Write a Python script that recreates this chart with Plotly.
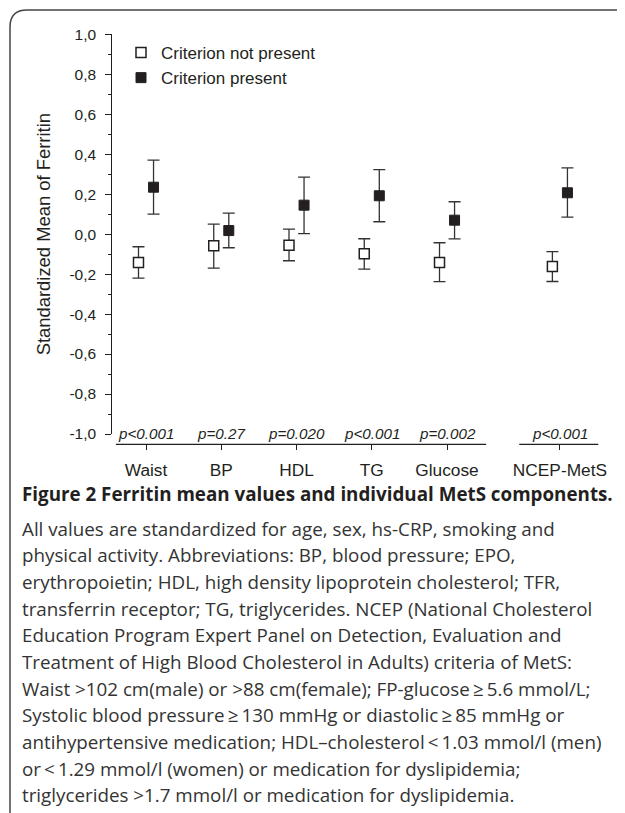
import plotly.graph_objects as go

# ---------------- data ----------------
categories = ["Waist", "BP", "HDL", "TG", "Glucose", "NCEP-MetS"]
not_present_mean = [-0.142, -0.058, -0.055, -0.098, -0.142, -0.162]
not_present_upper = [-0.063, 0.050, 0.025, -0.023, -0.043, -0.087]
not_present_lower = [-0.220, -0.170, -0.133, -0.175, -0.238, -0.237]
present_mean = [0.235, 0.018, 0.145, 0.192, 0.070, 0.207]
present_upper = [0.370, 0.105, 0.285, 0.323, 0.162, 0.332]
present_lower = [0.100, -0.068, 0.003, 0.062, -0.024, 0.085]
p_values = ["p<0.001", "p=0.27", "p=0.020", "p<0.001", "p=0.002", "p<0.001"]
y_tick_values = [-1.0, -0.8, -0.6, -0.4, -0.2, 0.0, 0.2, 0.4, 0.6, 0.8, 1.0]
y_tick_labels = ["-1,0", "-0,8", "-0,6", "-0,4", "-0,2", "0,0", "0,2", "0,4", "0,6", "0,8", "1,0"]
series_names = ["Criterion not present", "Criterion present"]

caption_title = "Figure 2 Ferritin mean values and individual MetS components."
caption_lines = [
    "All values are standardized for age, sex, hs-CRP, smoking and",
    "physical activity. Abbreviations: BP, blood pressure; EPO,",
    "erythropoietin; HDL, high density lipoprotein cholesterol; TFR,",
    "transferrin receptor; TG, triglycerides. NCEP (National Cholesterol",
    "Education Program Expert Panel on Detection, Evaluation and",
    "Treatment of High Blood Cholesterol in Adults) criteria of MetS:",
    "Waist >102 cm(male) or >88 cm(female); FP-glucose\u2009\u2265\u20095.6 mmol/L;",
    "Systolic blood pressure\u2009\u2265\u2009130 mmHg or diastolic\u2009\u2265\u200985 mmHg or",
    "antihypertensive medication; HDL\u2013cholesterol\u2009<\u20091.03 mmol/l (men)",
    "or\u2009<\u20091.29 mmol/l (women) or medication for dyslipidemia;",
    "triglycerides >1.7 mmol/l or medication for dyslipidemia.",
]

# ---------------- layout helpers ----------------
# The page body has an 8 px margin; the figure starts at (8, 8) in the window
# and reaches its right and bottom edges. Positions below are window pixels.
VIEW_W, VIEW_H = 625, 813
BODY = 8
W, H = VIEW_W - BODY, VIEW_H - BODY
def PX(x):
    return (x - BODY) / W
def PY(y):
    return 1 - (y - BODY) / H

INK = "#231f20"
CHART_FONT = "Liberation Sans, Arial, sans-serif"
CAPTION_FONT = "Open Sans, sans-serif"
GROUP_GAP = 0.5      # extra space before the composite criterion
OFFSET = 0.1         # horizontal dodge of the two series

x_pos = [i + (GROUP_GAP if c == "NCEP-MetS" else 0) for i, c in enumerate(categories)]
x_np = [x - OFFSET for x in x_pos]
x_p = [x + OFFSET for x in x_pos]

err_style = dict(type="data", symmetric=False, color="#333333", thickness=1.3, width=6)

fig = go.Figure()
fig.add_trace(go.Scatter(
    x=x_np, y=not_present_mean, mode="markers", name=series_names[0],
    marker=dict(symbol="square", size=10, color="white", line=dict(color=INK, width=1.5)),
    error_y=dict(array=[u - m for u, m in zip(not_present_upper, not_present_mean)],
                 arrayminus=[m - l for m, l in zip(not_present_mean, not_present_lower)],
                 **err_style),
))
fig.add_trace(go.Scatter(
    x=x_p, y=present_mean, mode="markers", name=series_names[1],
    marker=dict(symbol="square", size=10, color=INK, line=dict(color=INK, width=1)),
    error_y=dict(array=[u - m for u, m in zip(present_upper, present_mean)],
                 arrayminus=[m - l for m, l in zip(present_mean, present_lower)],
                 **err_style),
))

x_axis_px = 444.3
fig.update_layout(
    width=W, height=H,
    margin=dict(l=0, r=0, t=0, b=0, autoexpand=False),
    paper_bgcolor="white", plot_bgcolor="white",
    font=dict(family=CHART_FONT, color=INK),
    showlegend=True,
    legend=dict(x=PX(121), y=PY(65.5), xanchor="left", yanchor="middle",
                bgcolor="rgba(0,0,0,0)", font=dict(size=17, family=CHART_FONT, color=INK),
                itemclick=False),
    xaxis=dict(
        domain=[PX(112.3), PX(615)], range=[-0.448, 6.232],
        anchor="free", position=PY(x_axis_px), automargin=False,
        tickmode="array", tickvals=x_pos, ticktext=categories,
        ticks="outside", ticklen=5, tickwidth=1.2, tickcolor=INK,
        showline=False, showgrid=False, zeroline=False,
        tickfont=dict(size=17.3, family=CHART_FONT, color=INK),
        ticklabelstandoff=5,
    ),
    yaxis=dict(
        domain=[PY(434), PY(34.3)], range=[-1.0, 1.0], automargin=False,
        tickmode="array", tickvals=y_tick_values, ticktext=y_tick_labels,
        ticks="outside", ticklen=6, tickwidth=1.2, tickcolor=INK,
        minor=dict(tickmode="array",
                   tickvals=[round(-0.9 + 0.2 * i, 1) for i in range(10)],
                   ticks="outside", ticklen=3, tickwidth=1, tickcolor=INK),
        showline=True, linecolor=INK, linewidth=1.2,
        showgrid=False, zeroline=False,
        tickfont=dict(size=15.5, family=CHART_FONT, color=INK),
        ticklabelstandoff=6,
    ),
)

# broken x-axis baseline (two segments)
seg_y = PY(x_axis_px)
for x0, x1 in [(x_pos[0] - 0.40, x_pos[4] + 0.52), (x_pos[5] - 0.54, x_pos[5] + 0.51)]:
    fig.add_shape(type="line", xref="x", yref="paper", x0=x0, x1=x1, y0=seg_y, y1=seg_y,
                  line=dict(color=INK, width=1.3))

# p-values above the axis
for xp, pv in zip(x_pos, p_values):
    fig.add_annotation(x=xp, xref="x", y=PY(433), yref="paper", text="<i>" + pv + "</i>",
                       showarrow=False, xanchor="center", yanchor="middle",
                       font=dict(size=15.2, family=CHART_FONT, color=INK))

# y-axis title
fig.add_annotation(x=PX(43.3), y=PY(234), xref="paper", yref="paper",
                   text="Standardized Mean of Ferritin", textangle=-90, showarrow=False,
                   xanchor="center", yanchor="middle",
                   font=dict(size=18.4, family=CHART_FONT, color=INK))

# caption
fig.add_annotation(x=PX(20), y=PY(494), xref="paper", yref="paper",
                   text="<b>" + caption_title + "</b>", showarrow=False,
                   xanchor="left", yanchor="middle",
                   font=dict(size=18.8, family=CAPTION_FONT, color=INK))
for i, line in enumerate(caption_lines):
    fig.add_annotation(x=PX(20), y=PY(528.5 + 26.67 * i), xref="paper", yref="paper",
                       text=line, showarrow=False, xanchor="left", yanchor="middle",
                       font=dict(size=18.8, family=CAPTION_FONT, color="#333333"))

# rounded outer frame
r = 17
fx, fy = 10, 10
path = (f"M {PX(fx)},{PY(VIEW_H + 20)} L {PX(fx)},{PY(fy + r)} "
        f"Q {PX(fx)},{PY(fy)} {PX(fx + r)},{PY(fy)} L {PX(VIEW_W + 20)},{PY(fy)}")
fig.add_shape(type="path", xref="paper", yref="paper", path=path,
              line=dict(color="#444444", width=1.5))

fig.write_html("out.html")
